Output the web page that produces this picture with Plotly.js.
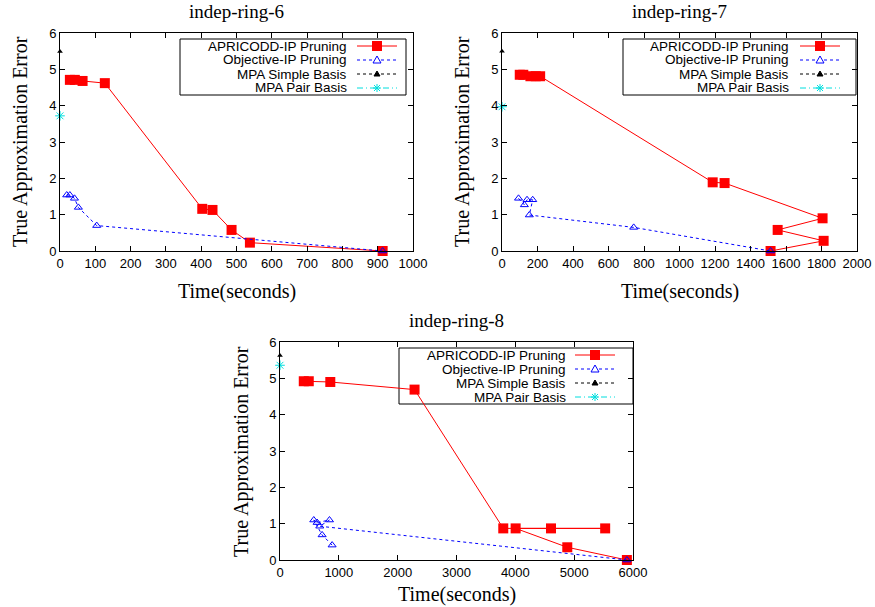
<!DOCTYPE html>
<html><head><meta charset="utf-8">
<script src="https://cdn.plot.ly/plotly-3.0.1.min.js"></script>
<style>html,body{margin:0;padding:0;background:#fff}#chart{width:875px;height:607px}</style>
</head><body><div id="chart"></div>
<script>
// ---- data ----
const seriesNames = ["APRICODD-IP Pruning", "Objective-IP Pruning", "MPA Simple Basis", "MPA Pair Basis"];
const plotTitles = ["indep-ring-6", "indep-ring-7", "indep-ring-8"];
const xTitle = "Time(seconds)";
const yTitle = "True Approximation Error";

const ring6ApricoddTime = [28, 42, 64, 127, 403, 432, 486, 538, 914];
const ring6ApricoddErr  = [4.71, 4.71, 4.68, 4.62, 1.16, 1.13, 0.58, 0.23, 0];
const ring6ObjectiveTime = [19, 28, 41, 52, 104, 914];
const ring6ObjectiveErr  = [1.54, 1.54, 1.45, 1.20, 0.70, 0];
const ring6SimpleTime = [0];
const ring6SimpleErr  = [5.49];
const ring6PairTime = [0];
const ring6PairErr  = [3.72];

const ring7ApricoddTime = [100, 120, 160, 190, 215, 1187, 1254, 1806, 1553, 1812, 1513];
const ring7ApricoddErr  = [4.85, 4.85, 4.81, 4.81, 4.81, 1.89, 1.87, 0.90, 0.58, 0.28, 0];
const ring7ObjectiveTime = [93, 126, 141, 173, 154, 742, 1513];
const ring7ObjectiveErr  = [1.45, 1.27, 1.41, 1.41, 0.99, 0.65, 0];
const ring7SimpleTime = [0];
const ring7SimpleErr  = [5.5];
const ring7PairTime = [0];
const ring7PairErr  = [3.97];

const ring8ApricoddTime = [404, 489, 855, 2287, 3795, 5527, 4606, 4005, 4883, 5896];
const ring8ApricoddErr  = [4.92, 4.92, 4.90, 4.69, 0.87, 0.87, 0.87, 0.87, 0.35, 0];
const ring8ObjectiveTime = [886, 716, 574, 631, 841, 676, 5896];
const ring8ObjectiveErr  = [0.41, 0.69, 1.10, 1.03, 1.10, 0.93, 0];
const ring8SimpleTime = [0];
const ring8SimpleErr  = [5.63];
const ring8PairTime = [0];
const ring8PairErr  = [5.36];

const xRanges = [[0, 1000], [0, 2000], [0, 6000]];
const xDticks = [100, 200, 1000];

// ---- styles ----
const W = 875, H = 607;
const px = x => x / W;
const py = y => 1 - y / H;
const RED = '#ff0000', BLUE = '#0000ff', BLACK = '#000000', CYAN = '#00dede';
const SANS = 'Liberation Sans, Arial, sans-serif';
const SERIF = 'Liberation Serif, Times New Roman, serif';

const styles = [
  {mode: 'lines+markers', line: {color: RED, width: 1}, marker: {symbol: 'square', size: 10, color: RED, line: {width: 0}}},
  {mode: 'lines+markers', line: {color: BLUE, width: 1, dash: 'dot'}, marker: {symbol: 'triangle-up-open', size: 7, color: BLUE, line: {width: 1, color: BLUE}}},
  {mode: 'markers', line: {color: BLACK, width: 1, dash: 'dash'}, marker: {symbol: 'triangle-up', size: 5, color: BLACK}},
  {mode: 'markers', line: {color: CYAN, width: 1, dash: 'dashdot'}, marker: {symbol: 'asterisk-open', size: 8, color: CYAN, line: {width: 1, color: CYAN}}}
];

const datasets = [
  [[ring6ApricoddTime, ring6ApricoddErr], [ring6ObjectiveTime, ring6ObjectiveErr], [ring6SimpleTime, ring6SimpleErr], [ring6PairTime, ring6PairErr]],
  [[ring7ApricoddTime, ring7ApricoddErr], [ring7ObjectiveTime, ring7ObjectiveErr], [ring7SimpleTime, ring7SimpleErr], [ring7PairTime, ring7PairErr]],
  [[ring8ApricoddTime, ring8ApricoddErr], [ring8ObjectiveTime, ring8ObjectiveErr], [ring8SimpleTime, ring8SimpleErr], [ring8PairTime, ring8PairErr]]
];

// panel geometry (pixels)
const panels = [
  {x0: 60, x1: 413, y0: 33, y1: 251, xTitleY: 291, yTitleX: 20, box: [180, 39, 406, 95], textR: 348, lineX: [357, 397], rows: [46, 60, 74, 88]},
  {x0: 502, x1: 857, y0: 33, y1: 251, xTitleY: 291, yTitleX: 462, box: [623, 39, 856, 95], textR: 790, lineX: [800, 840], rows: [46, 60, 74, 88]},
  {x0: 280, x1: 633, y0: 342, y1: 560, xTitleY: 594, yTitleX: 241, box: [399, 348, 633, 404], textR: 567, lineX: [575, 615], rows: [355, 369, 383, 397]}
];

const traces = [];
const layout = {
  width: W, height: H, margin: {l: 0, r: 0, t: 0, b: 0},
  paper_bgcolor: '#fff', plot_bgcolor: '#fff', showlegend: false,
  shapes: [], annotations: []
};

panels.forEach((p, i) => {
  const sfx = i === 0 ? '' : String(i + 1);
  const axCommon = {
    showline: true, linecolor: BLACK, linewidth: 1, mirror: 'allticks',
    ticks: 'inside', ticklen: 5, tickwidth: 1, tickcolor: BLACK,
    showgrid: false, zeroline: false,
    tickfont: {family: SANS, size: 13, color: BLACK}
  };
  layout['xaxis' + sfx] = Object.assign({}, axCommon, {
    domain: [px(p.x0), px(p.x1)], range: xRanges[i], dtick: xDticks[i], tick0: 0,
    anchor: 'y' + sfx
  });
  layout['yaxis' + sfx] = Object.assign({}, axCommon, {
    domain: [py(p.y1), py(p.y0)], range: [0, 6], dtick: 1, tick0: 0,
    anchor: 'x' + sfx
  });
  datasets[i].forEach((d, k) => {
    traces.push(Object.assign({
      x: d[0], y: d[1], name: seriesNames[k], xaxis: 'x' + sfx, yaxis: 'y' + sfx,
      cliponaxis: false, hoverinfo: 'skip'
    }, JSON.parse(JSON.stringify(styles[k]))));
  });

  // titles
  const cx = (p.x0 + p.x1) / 2;
  layout.annotations.push({xref: 'paper', yref: 'paper', x: px(cx), y: py(p.y0 - 21), text: plotTitles[i],
    showarrow: false, xanchor: 'center', yanchor: 'middle', font: {family: SERIF, size: 19, color: BLACK}});
  layout.annotations.push({xref: 'paper', yref: 'paper', x: px(cx), y: py(p.xTitleY), text: xTitle,
    showarrow: false, xanchor: 'center', yanchor: 'middle', font: {family: SERIF, size: 20, color: BLACK}});
  layout.annotations.push({xref: 'paper', yref: 'paper', x: px(p.yTitleX), y: py((p.y0 + p.y1) / 2), text: yTitle,
    textangle: -90, showarrow: false, xanchor: 'center', yanchor: 'middle', font: {family: SERIF, size: 20, color: BLACK}});

  // legend box (drawn under the data, as in the reference)
  const b = p.box;
  layout.shapes.push({type: 'rect', xref: 'paper', yref: 'paper', x0: px(b[0]), x1: px(b[2]), y0: py(b[3]), y1: py(b[1]),
    line: {color: BLACK, width: 1}, fillcolor: '#fff', layer: 'below'});
  const dashes = ['solid', 'dot', '3px,3px', '6px,3px,1px,3px'];
  const cols = [RED, BLUE, BLACK, CYAN];
  p.rows.forEach((ry, k) => {
    layout.annotations.push({xref: 'paper', yref: 'paper', x: px(p.textR), y: py(ry), text: seriesNames[k],
      showarrow: false, xanchor: 'right', yanchor: 'middle', borderpad: 0,
      font: {family: SANS, size: 13.5, color: BLACK}});
    layout.shapes.push({type: 'line', xref: 'paper', yref: 'paper', x0: px(p.lineX[0]), x1: px(p.lineX[1]), y0: py(ry), y1: py(ry),
      line: {color: cols[k], width: 1, dash: dashes[k]}, layer: 'above'});
    const mx = (p.lineX[0] + p.lineX[1]) / 2;
    if (k === 0) {
      layout.shapes.push({type: 'rect', xref: 'paper', yref: 'paper', x0: px(mx - 5), x1: px(mx + 5), y0: py(ry + 5), y1: py(ry - 5),
        line: {width: 0}, fillcolor: RED, layer: 'above'});
    } else if (k === 1) {
      layout.shapes.push({type: 'path', xref: 'paper', yref: 'paper',
        path: `M ${px(mx - 4)} ${py(ry + 3)} L ${px(mx + 4)} ${py(ry + 3)} L ${px(mx)} ${py(ry - 4)} Z`,
        line: {color: BLUE, width: 1}, fillcolor: '#fff', layer: 'above'});
    } else if (k === 2) {
      layout.shapes.push({type: 'path', xref: 'paper', yref: 'paper',
        path: `M ${px(mx - 3)} ${py(ry + 2)} L ${px(mx + 3)} ${py(ry + 2)} L ${px(mx)} ${py(ry - 3)} Z`,
        line: {color: BLACK, width: 1}, fillcolor: BLACK, layer: 'above'});
    } else {
      const r = 4;
      [[-r, 0, r, 0], [0, -r, 0, r], [-3, -3, 3, 3], [-3, 3, 3, -3]].forEach(s => {
        layout.shapes.push({type: 'line', xref: 'paper', yref: 'paper',
          x0: px(mx + s[0]), y0: py(ry + s[1]), x1: px(mx + s[2]), y1: py(ry + s[3]),
          line: {color: CYAN, width: 1}, layer: 'above'});
      });
    }
  });
});

Plotly.newPlot('chart', traces, layout, {staticPlot: true, displayModeBar: false});
</script></body></html>
